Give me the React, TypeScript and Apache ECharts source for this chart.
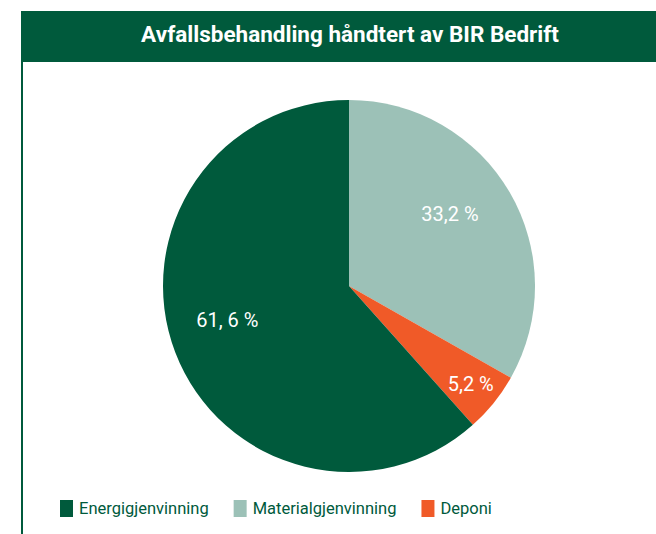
import React, { useEffect, useRef } from "react";
import * as echarts from "echarts";

const categories = ["Materialgjenvinning", "Deponi", "Energigjenvinning"];
const values = [33.2, 5.2, 61.6];
const labelTexts = ["33,2 %\n", "5,2 %", "61, 6 %"];
const legendOrder = ["Energigjenvinning", "Materialgjenvinning", "Deponi"];
const colors = ["#9cc1b7", "#f05a28", "#005a3c"];
const titleText = "Avfallsbehandling håndtert av BIR Bedrift";

const FONT = "'Roboto', sans-serif";
const labelPads = [
  [0, 0, 0, 36],
  [0, 0, 0, 0],
  [0, 64, 0, 0],
];
const labelLineHeights = [48, 24, 24];
const labelOffsets = [
  [0, 0],
  [47, 38],
  [0, 0],
];

export default function App() {
  const ref = useRef<HTMLDivElement>(null);
  useEffect(() => {
    if (!ref.current) return;
    const chart = echarts.init(ref.current, null, { renderer: "svg" });
    chart.setOption({
      animation: false,
      backgroundColor: "#ffffff",
      graphic: [
        {
          type: "rect",
          shape: { x: 21, y: 11, width: 635, height: 51 },
          style: { fill: "#005a3c" },
          z: 0,
        },
        {
          type: "rect",
          shape: { x: 21, y: 62, width: 2, height: 472 },
          style: { fill: "#005a3c" },
          z: 0,
        },
      ],
      title: {
        text: titleText,
        left: 350,
        textAlign: "center",
        top: 22,
        padding: 0,
        textStyle: {
          color: "#ffffff",
          fontFamily: FONT,
          fontWeight: "bold",
          fontSize: 22.5,
        },
        z: 10,
      },
      legend: {
        data: legendOrder,
        left: 60,
        top: 500,
        padding: 0,
        itemWidth: 13,
        itemHeight: 17,
        itemGap: 25,
        icon: "rect",
        textStyle: {
          color: "#005a3c",
          fontFamily: FONT,
          fontSize: 16.5,
          padding: [0, 0, 0, 1],
        },
      },
      series: [
        {
          type: "pie",
          center: [349, 286],
          radius: [0, 186],
          startAngle: 90,
          clockwise: true,
          label: {
            show: true,
            position: "inside",
            color: "#ffffff",
            fontFamily: FONT,
            fontSize: 20,
          },
          labelLine: { show: false },
          emphasis: { disabled: true },
          data: categories.map((name, i) => ({
            name,
            value: values[i],
            itemStyle: { color: colors[i] },
            label: {
              formatter: labelTexts[i],
              padding: labelPads[i],
              lineHeight: labelLineHeights[i],
              offset: labelOffsets[i],
            },
          })),
        },
      ],
    });
    return () => chart.dispose();
  }, []);
  return (
    <div
      ref={ref}
      style={{ position: "absolute", left: 0, top: 0, width: 656, height: 534 }}
    />
  );
}
